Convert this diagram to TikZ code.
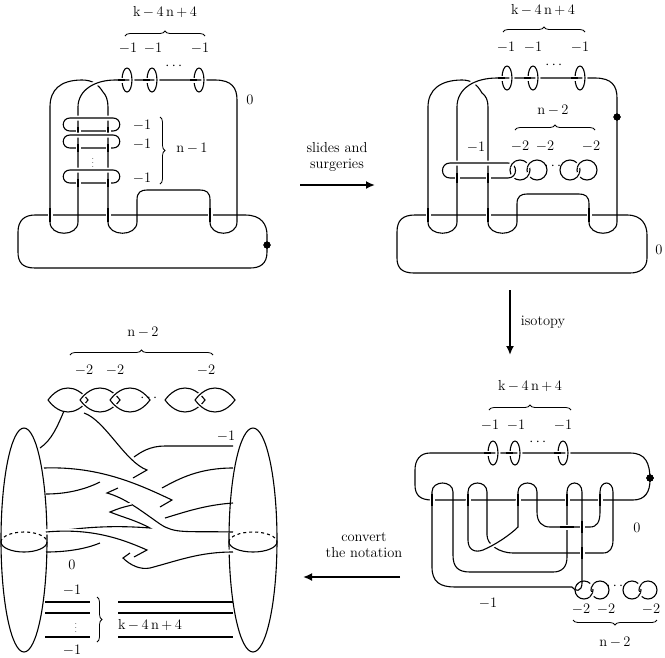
\documentclass[tikz,border=0pt]{standalone}
\usepackage{amsmath}
\usetikzlibrary{arrows.meta,positioning,calc,decorations.pathreplacing}
\tikzset{
  knot/.style={line width=1.1pt},
  lab/.style={font=\fontsize{14.5}{16}\selectfont, inner sep=0.5pt},
  vdt/.style={font=\fontsize{9}{9}\selectfont, inner sep=0pt},
  brc/.style={decorate, decoration={brace, amplitude=5pt}, line width=0.8pt},
  dotc/.style={circle, fill=black, inner sep=0pt, minimum size=7pt},
  bigarrow/.style={-{Latex[length=9pt,width=8pt]}, line width=1.8pt}
}
% over-strand at a crossing
\newcommand\ov[1]{\draw[knot, preaction={draw=white, line width=5pt}] #1;}
% meridian circle threaded by a horizontal strand
\newcommand\merid[2]{%
  \draw[knot] (#1,#2) ellipse [x radius=5, y radius=12];
  \ov{(#1-9,#2)--(#1-2,#2)}
  \ov{(#1+4.53,#2-5.07) arc [start angle=-25, end angle=25, x radius=5, y radius=12]}}
% -2 circle link
\newcommand\chainlink[3]{%
  \ov{(#1,#3) ++(20:10) arc [start angle=20, end angle=45, radius=10]}
  \ov{(#2,#3) ++(195:10) arc [start angle=195, end angle=225, radius=10]}}
\newcommand\kfn{k\,$-$\,4\,n\,$+$\,4}

\begin{document}
\begin{tikzpicture}[x=1pt, y=-1pt]
\useasboundingbox (0,0) rectangle (665,657);

% ---------- top left ----------
\draw[knot] (78,107) .. controls (78,90) and (95,80) .. (115,80) -- (215,80)
  .. controls (232,80) and (237,88) .. (237,100) -- (237,222)
  .. controls (237,237) and (210,237) .. (210,222) -- (210,200)
  .. controls (210,192) and (206,190) .. (200,190) -- (147,190)
  .. controls (141,190) and (137,192) .. (137,200) -- (137,222)
  .. controls (137,237) and (108,237) .. (108,222) -- (108,107)
  .. controls (108,100) and (106,95) .. (103,92) .. controls (98,84) and (92,80) .. (82,80)
  .. controls (60,80) and (50,90) .. (50,107) -- (50,222)
  .. controls (50,237) and (78,237) .. (78,222) -- cycle;
\ov{(78,107) .. controls (78,90) and (95,80) .. (115,80)}
\merid{127}{80}
\merid{152}{80}
\merid{199}{80}
\foreach \t in {118,135,170} {
  \draw[knot, preaction={draw=white, line width=5pt}] (70,\t) -- (113,\t)
    .. controls (122,\t) and (122,\t+13) .. (113,\t+13) -- (70,\t+13)
    .. controls (61,\t+13) and (61,\t) .. (70,\t);
  \ov{(78,\t+9)--(78,\t+17)}
  \ov{(108,\t+9)--(108,\t+17)}
}
\draw[knot] (35,215) -- (245,215) .. controls (262,215) and (267,225) .. (267,235) -- (267,252)
  .. controls (267,264) and (260,268) .. (250,268) -- (35,268)
  .. controls (22,268) and (18,262) .. (18,252) -- (18,232)
  .. controls (18,220) and (25,215) .. (35,215);
\foreach \x in {50,108,210} \ov{(\x,208)--(\x,222)}
\node[dotc] (dotA) at (267,245) {};
\node[lab] (kA) at (165,12) {\kfn};
\draw[brc] (125,36) -- (205,36);
\node[lab] (mA1) at (128,48) {$-$1};
\node[lab] (mA2) at (153,48) {$-$1};
\node[lab] (mA3) at (200,48) {$-$1};
\node[lab] (dA) at (175,66) {$\cdots$};
\node[lab] (zA) at (250,100) {0};
\node[lab] (lA1) at (142,125) {$-$1};
\node[lab] (lA2) at (142,144) {$-$1};
\node[lab] (lA3) at (142,178) {$-$1};
\node[vdt] (vA) at (93,160) {$\vdots$};
\draw[brc] (160,117) -- (160,184);
\node[lab] (nA) at (192,148) {n\,$-$\,1};

% ---------- arrow 1 ----------
\coordinate (a1s) at (300,185);
\coordinate (a1e) at (375,185);
\draw[bigarrow] (a1s) -- (a1e);
\node[lab, align=center] (t1) at (337,157) {slides and\\surgeries};

% ---------- top right ----------
\draw[knot] (457,107) .. controls (457,88) and (475,78) .. (497,78) -- (595,78)
  .. controls (612,78) and (617,86) .. (617,98) -- (617,222)
  .. controls (617,237) and (589,237) .. (589,222) -- (589,204)
  .. controls (589,196) and (585,194) .. (579,194) -- (527,194)
  .. controls (521,194) and (517,196) .. (517,204) -- (517,222)
  .. controls (517,237) and (488,237) .. (488,222) -- (488,107)
  .. controls (488,100) and (486,96) .. (482,93) .. controls (477,84) and (471,80) .. (462,80)
  .. controls (440,80) and (428,90) .. (428,107) -- (428,222)
  .. controls (428,237) and (457,237) .. (457,222) -- cycle;
\ov{(457,107) .. controls (457,88) and (475,78) .. (497,78)}
\merid{507}{78}
\merid{533}{78}
\merid{580}{78}
\foreach \c in {520,537,570,587} \draw[knot] (\c,170) circle [radius=10];
\chainlink{520}{537}{170}
\chainlink{570}{587}{170}
\draw[knot, preaction={draw=white, line width=5pt}] (450,163) -- (508,163)
  .. controls (518,163) and (518,178) .. (508,178) -- (450,178)
  .. controls (440,178) and (440,163) .. (450,163);
\ov{(520,170) ++(195:10) arc [start angle=195, end angle=240, radius=10]}
\ov{(457,173)--(457,183)}
\ov{(488,173)--(488,183)}
\draw[knot] (415,215) -- (627,215) .. controls (642,215) and (647,225) .. (647,235) -- (647,258)
  .. controls (647,268) and (640,273) .. (630,273) -- (414,273)
  .. controls (402,273) and (397,268) .. (397,258) -- (397,232)
  .. controls (397,220) and (403,215) .. (415,215);
\foreach \x in {428,488,589} \ov{(\x,208)--(\x,222)}
\node[dotc] (dotB) at (617,117) {};
\node[lab] (kB) at (543,10) {\kfn};
\draw[brc] (503,32) -- (585,32);
\node[lab] (mB1) at (506,47) {$-$1};
\node[lab] (mB2) at (533,47) {$-$1};
\node[lab] (mB3) at (580,47) {$-$1};
\node[lab] (dB) at (555,65) {$\cdots$};
\node[lab] (nB) at (553,110) {n\,$-$\,2};
\draw[brc] (515,130) -- (595,130);
\node[lab] (tB1) at (520,146) {$-$2};
\node[lab] (tB2) at (545,146) {$-$2};
\node[lab] (tB3) at (591,146) {$-$2};
\node[lab] (dB2) at (554,166) {$\cdots$};
\node[lab] (lB) at (476,147) {$-$1};
\node[lab] (zB) at (659,250) {0};

% ---------- arrow 2 ----------
\coordinate (a2s) at (510,290);
\coordinate (a2e) at (510,355);
\draw[bigarrow] (a2s) -- (a2e);
\node[lab] (t2) at (543,322) {isotopy};

% ---------- bottom right ----------
\draw[knot] (432,500) -- (633,500) .. controls (645,500) and (650,492) .. (650,480)
  .. controls (650,462) and (645,453) .. (630,453) -- (430,453)
  .. controls (420,453) and (415,460) .. (415,470) -- (415,485)
  .. controls (415,495) and (420,500) .. (432,500);
\merid{493}{453}
\merid{515}{453}
\merid{563}{453}
\foreach \a/\b in {432/453,468/487,518/537,567/582,600/613}
  \draw[knot] (\a,500) -- (\a,492) .. controls (\a,480) and (\b,480) .. (\b,492) -- (\b,500);
\foreach \c in {584,600,632,648} \draw[knot] (\c,590) circle [radius=9];
\draw[knot] (432,500) -- (432,567) .. controls (432,582) and (440,587) .. (455,587) -- (572,587);
\draw[knot] (582,500) -- (582,583) .. controls (582,592) and (575,592) .. (572,587);
\draw[knot] (453,500) -- (453,555) .. controls (453,567) and (458,572) .. (470,572) -- (553,572)
  .. controls (562,572) and (567,567) .. (567,557) -- (567,500);
\draw[knot] (487,500) -- (487,535) .. controls (487,545) and (500,553) .. (513,553) -- (603,553)
  .. controls (610,553) and (613,548) .. (613,540) -- (613,500);
\draw[knot] (537,500) -- (537,512) .. controls (537,522) and (542,527) .. (550,527) -- (590,527)
  .. controls (597,527) and (600,522) .. (600,512) -- (600,500);
\draw[knot, preaction={draw=white, line width=5pt}] (468,500) -- (468,540)
  .. controls (468,550) and (475,553) .. (483,550) .. controls (495,545) and (510,535) .. (518,527) -- (518,500);
\ov{(560,527)--(574,527)}
\ov{(582,521)--(582,533)}
\ov{(582,547)--(582,559)}
\foreach \x in {432,468,518,567,600} \ov{(\x,494)--(\x,506)}
\ov{(584,590) ++(195:9) arc [start angle=195, end angle=235, radius=9]}
\foreach \c/\d in {584/600,632/648} {
  \ov{(\c,590) ++(20:9) arc [start angle=20, end angle=50, radius=9]}
  \ov{(\d,590) ++(195:9) arc [start angle=195, end angle=225, radius=9]}
}
\node[dotc] (dotD) at (650,478) {};
\node[lab] (kD) at (530,386) {\kfn};
\draw[brc] (489,410) -- (571,410);
\node[lab] (mD1) at (490,425) {$-$1};
\node[lab] (mD2) at (516,425) {$-$1};
\node[lab] (mD3) at (563,425) {$-$1};
\node[lab] (dD) at (539,442) {$\cdots$};
\node[lab] (zD) at (637,528) {0};
\node[lab] (lD) at (488,603) {$-$1};
\node[lab] (dD2) at (616,586) {$\cdots$};
\node[lab] (tD1) at (581,609) {$-$2};
\node[lab] (tD2) at (606,609) {$-$2};
\node[lab] (tD3) at (651,609) {$-$2};
\draw[brc] (657,620) -- (573,620);
\node[lab] (nD) at (615,642) {n\,$-$\,2};

% ---------- arrow 3 ----------
\coordinate (a3s) at (400,577);
\coordinate (a3e) at (303,577);
\draw[bigarrow] (a3s) -- (a3e);
\node[lab, align=center] (t3) at (364,545) {convert\\the notation};

% ---------- bottom left ----------
\draw[knot] (24,540) ellipse [x radius=23, y radius=112];
\draw[knot] (253,540) ellipse [x radius=24, y radius=112];
\draw[knot, dashed] (1,542) arc [start angle=180, end angle=360, x radius=23, y radius=10];
\draw[knot] (1,542) arc [start angle=180, end angle=0, x radius=23, y radius=10];
\draw[knot, dashed] (229,542) arc [start angle=180, end angle=360, x radius=24, y radius=10];
\draw[knot] (229,542) arc [start angle=180, end angle=0, x radius=24, y radius=10];
\foreach \x in {48,80,110,165,195} {
  \draw[knot, preaction={draw=white, line width=4pt}] (\x,400) .. controls (\x+12,384) and (\x+28,384) .. (\x+40,400)
    .. controls (\x+28,416) and (\x+12,416) .. (\x,400);
}
\node[lab] (dC) at (150,398) {$\cdots$};
\draw[knot] (64,411) .. controls (58,425) and (52,440) .. (40,448);
\draw[knot] (233,446) -- (165,446) .. controls (150,446) and (141,452) .. (134,457);
\draw[knot] (233,468) .. controls (200,468) and (180,478) .. (162,488);
\draw[knot] (46,494) .. controls (70,494) and (88,488) .. (100,482);
\draw[knot] (233,503) .. controls (205,505) and (185,512) .. (165,518);
\draw[knot] (46,552) .. controls (70,552) and (88,548) .. (100,543);
\draw[knot] (118,488) .. controls (112,490) .. (107,493) .. controls (125,498) and (140,510) .. (160,524)
  .. controls (175,534) and (185,531) .. (233,532);
\draw[knot, preaction={draw=white, line width=5pt}] (84,413) .. controls (105,420) and (125,462) .. (147,470)
  .. controls (140,474) .. (133,478);
\draw[knot, preaction={draw=white, line width=5pt}] (44,468) .. controls (100,466) and (140,485) .. (172,500)
  .. controls (166,504) .. (160,507);
\draw[knot, preaction={draw=white, line width=5pt}] (132,505) .. controls (120,508) .. (110,512)
  .. controls (125,518) and (135,520) .. (150,528) .. controls (100,524) and (70,530) .. (46,532);
\draw[knot, preaction={draw=white, line width=5pt}] (46,532) .. controls (90,528) and (120,538) .. (147,550)
  .. controls (140,554) .. (134,557);
\draw[knot, preaction={draw=white, line width=5pt}] (130,553) .. controls (126,555) .. (123,558)
  .. controls (130,565) and (140,570) .. (150,568) .. controls (180,560) and (200,552) .. (233,552);
\draw[knot] (45,602) -- (90,602);
\draw[knot] (45,613) -- (90,613);
\draw[knot] (45,637) -- (90,637);
\draw[knot] (118,602) -- (233,602);
\draw[knot] (118,613) -- (233,613);
\draw[knot] (118,637) -- (233,637);
\draw[brc] (97,597) -- (97,642);
\node[lab] (kC) at (150,625) {\kfn};
\node[vdt] (vC) at (76,625) {$\vdots$};
\node[lab] (lC1) at (72,590) {$-$1};
\node[lab] (lC2) at (72,650) {$-$1};
\node[lab] (zC) at (72,565) {0};
\node[lab] (lC3) at (226,436) {$-$1};
\node[lab] (nC) at (143,332) {n\,$-$\,2};
\draw[brc] (70,355) -- (213,355);
\node[lab] (tC1) at (84,370) {$-$2};
\node[lab] (tC2) at (115,370) {$-$2};
\node[lab] (tC3) at (206,370) {$-$2};
\end{tikzpicture}
\end{document}
